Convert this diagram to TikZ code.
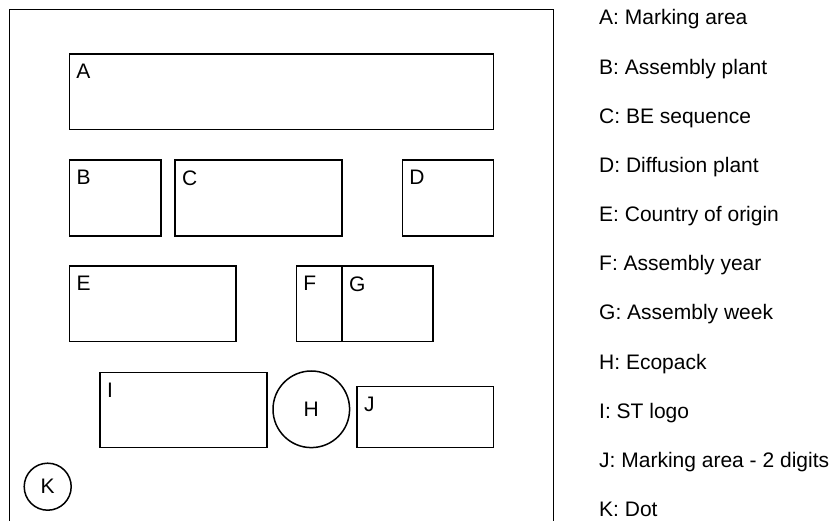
\documentclass[tikz,border=0pt]{standalone}
\usepackage{fontspec}
\setmainfont{Liberation Sans}
\begin{document}
\begin{tikzpicture}[x=1pt, y=-1pt,
  every node/.style = {font=\fontsize{21}{25}\selectfont},
  box/.style = {draw, line width=1.5pt, rectangle, inner sep=0pt},
  ring/.style = {draw, line width=1.5pt, circle, inner sep=0pt},
  tag/.style = {anchor=north west, inner sep=0pt, xshift=7.5pt, yshift=-11pt},
  key/.style = {anchor=base west, inner sep=0pt}
  ]
  \useasboundingbox (0,0) rectangle (835,521);
  % package outline
  \draw[line width=1.5pt] (9.5,530) |- (553.5,9.5) -- (553.5,530);
  % marking fields
  \node[box, minimum width=423.8pt, minimum height=75.5pt] (A) at (281.4,91.8) {};
  \node[box, minimum width=91.5pt, minimum height=76pt] (B) at (115.3,198) {};
  \node[box, minimum width=166.7pt, minimum height=76pt] (C) at (258.4,198) {};
  \node[box, minimum width=91pt, minimum height=76pt] (D) at (447.8,198) {};
  \node[box, minimum width=166.5pt, minimum height=75.5pt] (E) at (152.8,303.8) {};
  \node[box, minimum width=45.7pt, minimum height=75.5pt] (F) at (319.2,303.8) {};
  \node[box, minimum width=90.7pt, minimum height=75.5pt] (G) at (387.4,303.8) {};
  \node[ring, minimum size=76.6pt] (H) at (311.3,409.3) {H};
  \node[box, minimum width=166.7pt, minimum height=75.4pt] (I) at (183.4,410) {};
  \node[box, minimum width=136.3pt, minimum height=61pt] (J) at (425.2,417.2) {};
  \node[ring, minimum size=47pt] (K) at (47.7,486.7) {K};
  % corner letters
  \foreach \f in {A,B,C,D,E,F,G,I,J}
    \node[tag] (tag\f) at (\f.north west) {\f};
  % legend
  \foreach \f/\t [count=\i from 0] in {A/Marking area, B/Assembly plant,
      C/BE sequence, D/Diffusion plant, E/Country of origin,
      F/Assembly year, G/Assembly week, H/Ecopack, I/ST logo,
      J/Marking area - 2 digits, K/Dot}
    \node[key] (key\f) at (599,25+49.15*\i) {\f: \t};
\end{tikzpicture}
\end{document}
